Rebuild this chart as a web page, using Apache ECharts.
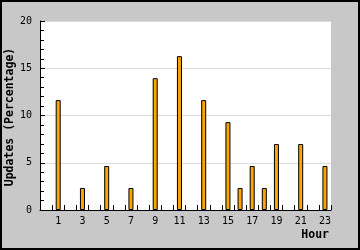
<!DOCTYPE html>
<html><head><meta charset="utf-8">
<script src="https://cdn.jsdelivr.net/npm/echarts@6/dist/echarts.min.js"></script>
<style>html,body{margin:0;padding:0;background:#c8c8c8}#c{width:360px;height:250px}</style>
</head><body><div id="c"></div>
<script>
var hours = ['0','1','2','3','4','5','6','7','8','9','10','11','12','13','14','15','16','17','18','19','20','21','22','23'];
var updates = [null,11.63,null,2.33,null,4.65,null,2.33,null,13.95,null,16.28,null,11.63,null,9.30,2.33,4.65,2.33,6.98,null,6.98,null,4.65];
var yTicks = [0,5,10,15,20];
var yName = 'Updates (Percentage)';
var xName = 'Hour';

var font = 'DejaVu Sans Mono';
var chart = echarts.init(document.getElementById('c'), null, {renderer:'canvas'});
chart.setOption({
  animation:false,
  backgroundColor:'#c8c8c8',
  grid:{left:40,right:29,top:21,bottom:40,show:true,backgroundColor:'#ffffff',borderWidth:0,containLabel:false,outerBoundsMode:'none'},
  xAxis:{
    type:'category', data:hours, boundaryGap:true,
    axisLine:{lineStyle:{color:'#000',width:1}},
    axisTick:{show:true,inside:true,length:5,interval:0,lineStyle:{color:'#000'}},
    axisLabel:{interval:function(i){return i%2===1;},color:'#000',fontFamily:font,fontSize:10,margin:6},
    name:xName, nameLocation:'end',
    nameTextStyle:{fontFamily:font,fontWeight:'bold',fontSize:11.5,color:'#000',align:'right',verticalAlign:'top',padding:[19,0,0,0]},
    nameGap:-2
  },
  yAxis:{
    type:'value', min:yTicks[0], max:yTicks[yTicks.length-1], interval:5,
    axisLine:{show:true,lineStyle:{color:'#000',width:1}},
    axisTick:{show:true,inside:true,length:5,lineStyle:{color:'#000'}},
    minorTick:{show:true,splitNumber:5,length:4,lineStyle:{color:'#000'}},
    splitLine:{show:true,lineStyle:{color:'#dcdcdc',width:1}},
    axisLabel:{color:'#000',fontFamily:font,fontSize:10,margin:8}
  },
  series:[{
    type:'bar', data:updates, barWidth:5,
    itemStyle:{color:'#ffa500',borderColor:'#000',borderWidth:1}
  }],
  graphic:[
    {type:'text',x:10,y:117,rotation:Math.PI/2,style:{text:yName,fontFamily:font,fontWeight:'bold',fontSize:11.5,fill:'#000',align:'center',verticalAlign:'middle'}},
    {type:'rect',shape:{x:1,y:1,width:358,height:248},style:{fill:null,stroke:'#000',lineWidth:2},z:100}
  ]
});
</script></body></html>
